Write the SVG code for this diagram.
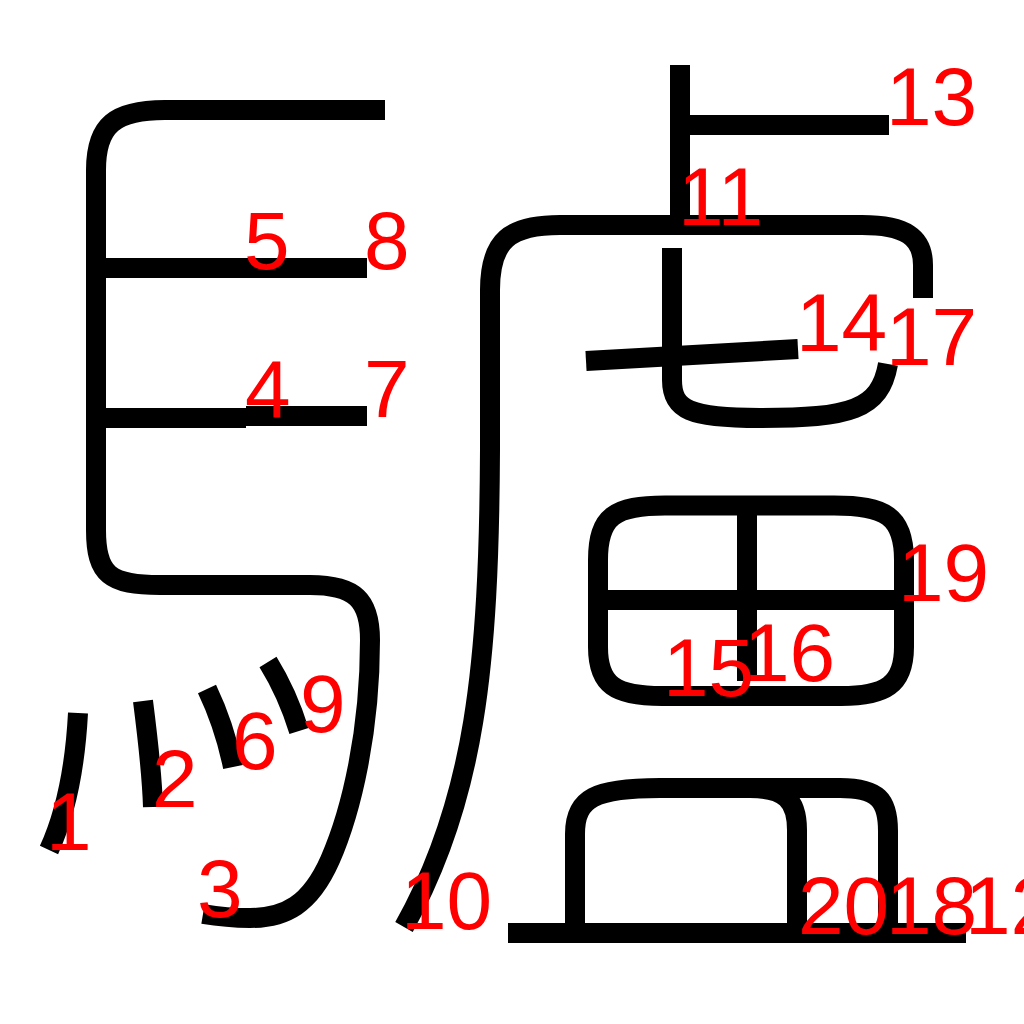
<svg xmlns="http://www.w3.org/2000/svg" width="1024" height="1024" viewBox="0 0 1024 1024">
<style>
.s{fill:none;stroke:#000;stroke-width:20;stroke-linecap:butt;stroke-linejoin:round}
.n{fill:#f00;font-family:"Liberation Sans",Arial,sans-serif;font-size:82px}
</style>
<rect width="1024" height="1024" fill="#fff"/>
<g id="strokes">
<path id="s1" class="s" d="M78,713 C75,770 65,815 49,850"/>
<path id="s2" class="s" d="M143,701 C148,740 152,775 153,807"/>
<path id="s3" class="s" d="M385,110 H165 C115,110 96,125 96,170 V530 C96,575 110,585 160,585 H310 C355,585 370,600 370,640 C370,730 352,810 330,860 C310,905 285,918 250,918 C230,918 215,916 203,914"/>
<path id="s4" class="s" d="M96,418 H246"/>
<path id="s5" class="s" d="M96,268 H246"/>
<path id="s6" class="s" d="M207,689 C218,712 227,738 233,767"/>
<path id="s7" class="s" d="M246,416 H367"/>
<path id="s8" class="s" d="M246,268 H367"/>
<path id="s9" class="s" d="M268,662 C281,683 291,705 299,731"/>
<path id="s10" class="s" d="M560,225 C510,225 490,240 490,290 V450 C489,665 475,800 404,927"/>
<path id="s11" class="s" d="M680,65 V222"/>
<path id="s12" class="s" d="M560,225 H862 C905,225 923,237 923,265 V298"/>
<path id="s13" class="s" d="M680,125 H889"/>
<path id="s14" class="s" d="M586,361 L798,349"/>
<path id="s17" class="s" d="M672,248 V380 C672,410 690,418 760,418 C850,418 880,410 888,364"/>
<path id="s15" class="s" d="M598,560 V647 C598,685 615,696 662,696"/>
<path id="s16" class="s" d="M598,560 C598,516 615,505.5 665,505.5 H834 C885,505.5 904,516 904,560 V647 C904,685 885,696 841,696 H662"/>
<path id="s16b" class="s" d="M608,600 H894"/>
<path id="s16c" class="s" d="M747,515 V681"/>
<path id="s18" class="s" d="M575,925 V834 C575,798 595,788 660,788 H750 C785,788 797,800 797,830 V925"/>
<path id="s19" class="s" d="M750,788 H840 C878,788 888,800 888,831 V925"/>
<path id="s20" class="s" d="M508,933 H966"/>
</g>
<g id="labels">
<text class="n" x="46" y="850">1</text>
<text class="n" x="152" y="807">2</text>
<text class="n" x="197" y="917">3</text>
<text class="n" x="245" y="418">4</text>
<text class="n" x="244" y="269">5</text>
<text class="n" x="232" y="769">6</text>
<text class="n" x="364" y="417">7</text>
<text class="n" x="364" y="269">8</text>
<text class="n" x="300" y="732">9</text>
<text class="n" x="401" y="929">10</text>
<text class="n" x="678" y="225">11</text>
<text class="n" x="965" y="934">12</text>
<text class="n" x="886" y="125">13</text>
<text class="n" x="796" y="351">14</text>
<text class="n" x="663" y="696">15</text>
<text class="n" x="744" y="681">16</text>
<text class="n" x="886" y="365">17</text>
<text class="n" x="886" y="934">18</text>
<text class="n" x="898" y="601">19</text>
<text class="n" x="798" y="934">20</text>
</g>
</svg>
